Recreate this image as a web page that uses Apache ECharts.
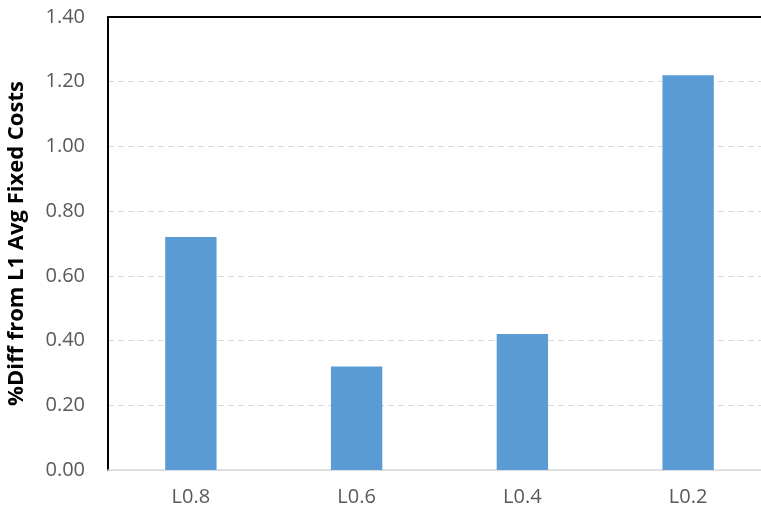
<!DOCTYPE html>
<html><head><meta charset="utf-8">
<script src="https://cdn.jsdelivr.net/npm/echarts@6/dist/echarts.min.js"></script>
<style>html,body{margin:0;padding:0;background:#fff}#c{width:761px;height:515px}</style>
</head><body><div id="c"></div>
<script>
const categories = ['L0.8', 'L0.6', 'L0.4', 'L0.2'];
const values = [0.72, 0.32, 0.42, 1.22];
const yTitle = '%Diff from L1 Avg Fixed Costs';

const chart = echarts.init(document.getElementById('c'), null, {renderer: 'canvas'});
chart.setOption({
  animation: false,
  grid: {left: 108, right: -10, top: 17, bottom: 45, containLabel: false, outerBoundsMode: 'none'},
  xAxis: [{
    type: 'category', data: categories,
    axisLine: {lineStyle: {color: '#d9d9d9', width: 1.5}},
    axisTick: {show: false},
    axisLabel: {color: '#595959', fontSize: 20, fontFamily: 'Open Sans', margin: 17}
  }, {
    type: 'category', data: categories, position: 'top',
    axisLine: {lineStyle: {color: '#000', width: 2}},
    axisTick: {show: false}, axisLabel: {show: false}
  }],
  yAxis: {
    type: 'value', min: 0, max: 1.4, interval: 0.2,
    axisLine: {show: true, lineStyle: {color: '#000', width: 2}},
    axisTick: {show: false},
    splitLine: {lineStyle: {color: '#d9d9d9', type: [6, 4], width: 1}},
    axisLabel: {color: '#595959', fontSize: 20, fontFamily: 'Open Sans', margin: 23,
      formatter: v => v.toFixed(2)},
    name: yTitle, nameLocation: 'middle', nameGap: 80,
    nameTextStyle: {color: '#000', fontSize: 22, fontWeight: 'bold', fontFamily: 'Open Sans'}
  },
  series: [{
    type: 'bar', data: values, barWidth: '31%', xAxisIndex: 0,
    itemStyle: {color: '#5b9bd5'}
  }]
});
</script></body></html>
